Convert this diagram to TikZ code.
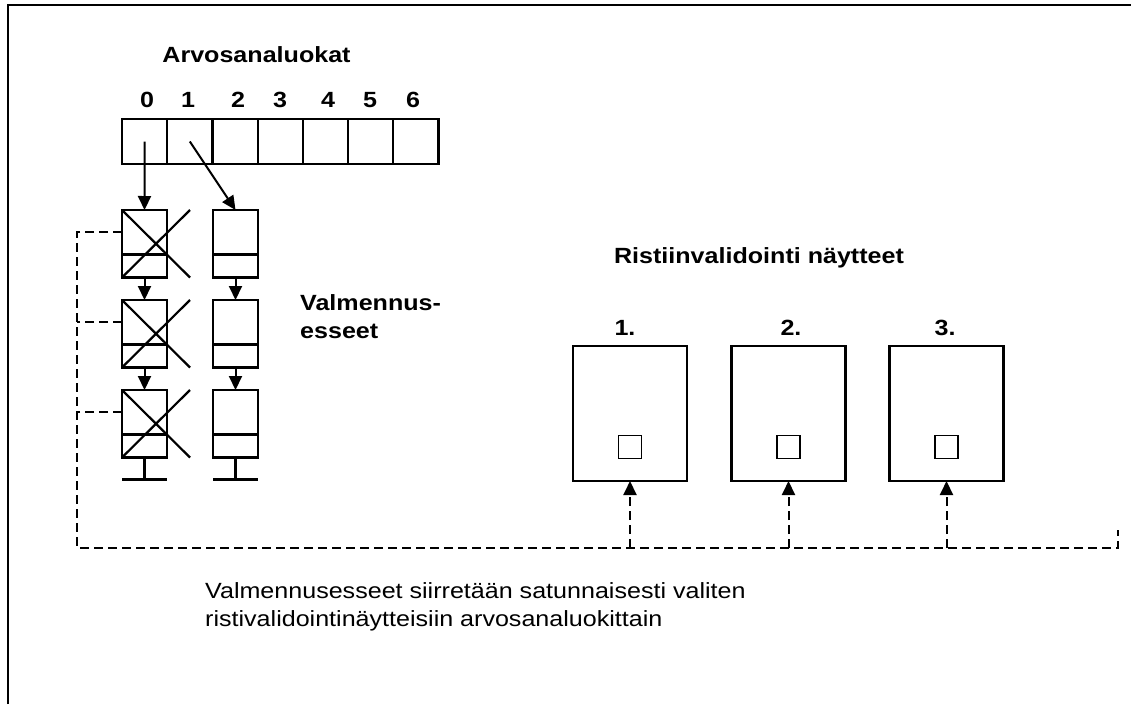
\documentclass[tikz,border=0pt]{standalone}
\usepackage{fontspec}
\setmainfont{Liberation Sans}[FakeStretch=1.14]
\usepackage{tikz}
\usetikzlibrary{arrows.meta,calc}
\newcommand{\recnode}[3]{
  \node[rec] (#1) at (#2,#3) {};
  \draw[box line] ($(#1.north west)!0.66!(#1.south west)$) -- ($(#1.north east)!0.66!(#1.south east)$);
  \coordinate (#1w) at ($(#1.north west)!0.33!(#1.south west)$);
}
\newcommand{\crossout}[1]{
  \draw[box line] (#1.north west) -- ([xshift=23pt]#1.south east);
  \draw[box line] (#1.south west) -- ([xshift=23pt]#1.north east);
}
\newcommand{\groundnode}[1]{
  \draw[box line] (#1.south) -- ++(0,22) ++(-22.5,0) -- ++(45,0);
}
\tikzset{
  box line/.style = {line width=2.2pt},
  cell/.style     = {draw, box line, minimum width=45.2pt, minimum height=45pt, inner sep=0pt, outer sep=0pt},
  rec/.style      = {draw, box line, minimum width=45pt, minimum height=67.5pt, inner sep=0pt, outer sep=0pt},
  sample/.style   = {draw, box line, minimum width=114pt, minimum height=135pt, inner sep=0pt, outer sep=0pt},
  smallbox/.style = {draw, line width=1.8pt, minimum size=23pt, inner sep=0pt, outer sep=0pt},
  heading/.style  = {font=\fontsize{22}{28}\selectfont\bfseries, inner sep=0pt},
  plaintext/.style = {font=\fontsize{22}{28}\selectfont, inner sep=0pt, align=left},
  arr/.style      = {-{Triangle[length=14pt,width=13pt]}, line width=2pt},
  dashline/.style = {line width=1.8pt, dash pattern=on 9pt off 5pt}
}

\begin{document}
\begin{tikzpicture}[x=1pt,y=-1pt]
	\useasboundingbox (0,0) rectangle (1131,704);
	\draw[line width=2.6pt] (8,704) -- (8,5) -- (1131,5);
	% grade classes
	\node[heading] (title) at (256.5,55) {Arvosanaluokat};
	\node[cell] (c0) at (144.6,141.5) {};
	\node[cell] (c1) at (189.8,141.5) {};
	\node[cell] (c2) at (235.0,141.5) {};
	\node[cell] (c3) at (280.2,141.5) {};
	\node[cell] (c4) at (325.4,141.5) {};
	\node[cell] (c5) at (370.6,141.5) {};
	\node[cell] (c6) at (415.8,141.5) {};
	\node[heading] (n0) at (147,100) {0};
	\node[heading] (n1) at (188,100) {1};
	\node[heading] (n2) at (238,100) {2};
	\node[heading] (n3) at (280,100) {3};
	\node[heading] (n4) at (328,100) {4};
	\node[heading] (n5) at (370,100) {5};
	\node[heading] (n6) at (413,100) {6};
	% training essays
	\recnode{x1}{144.5}{243.75}
	\recnode{x2}{144.5}{333.75}
	\recnode{x3}{144.5}{423.75}
	\recnode{r1}{235.5}{243.75}
	\recnode{r2}{235.5}{333.75}
	\recnode{r3}{235.5}{423.75}
	\crossout{x1}
	\crossout{x2}
	\crossout{x3}
	\groundnode{x3}
	\groundnode{r3}
	\draw[arr] (c0.center) -- (x1.north);
	\draw[arr] (c1.center) -- (r1.north);
	\draw[arr] (x1.south) -- (x2.north);
	\draw[arr] (x2.south) -- (x3.north);
	\draw[arr] (r1.south) -- (r2.north);
	\draw[arr] (r2.south) -- (r3.north);
	\node[heading, align=left, anchor=west] (train) at (300,317) {Valmennus-\\esseet};
	% cross validation samples
	\node[heading] (cvtitle) at (759,258) {Ristiinvalidointi näytteet};
	\node[sample] (s1) at (630,413.5) {};
	\node[sample] (s2) at (788.5,413.5) {};
	\node[sample] (s3) at (946.5,413.5) {};
	\node[heading] (l1) at (625,328) {1.};
	\node[heading] (l2) at (791,328) {2.};
	\node[heading] (l3) at (945,328) {3.};
	\node[smallbox] (q1) at ($(s1.south)+(0,-34)$) {};
	\node[smallbox] (q2) at ($(s2.south)+(0,-34)$) {};
	\node[smallbox] (q3) at ($(s3.south)+(0,-34)$) {};
	% transfer
	\coordinate (dcorner) at (77,548);
	\coordinate (dend) at (1118,548);
	\coordinate (dtip) at (1118,530);
	\draw[dashline] (x1w) -- (x1w -| dcorner) -- (dcorner) -- (dend) -- (dtip);
	\draw[dashline] (x2w) -- (x2w -| dcorner);
	\draw[dashline] (x3w) -- (x3w -| dcorner);
	\draw[dashline, arr] (s1.south |- dcorner) -- (s1.south);
	\draw[dashline, arr] (s2.south |- dcorner) -- (s2.south);
	\draw[dashline, arr] (s3.south |- dcorner) -- (s3.south);
	\node[plaintext, anchor=west] (note) at (205,607) {Valmennusesseet siirretään satunnaisesti valiten\\ristivalidointinäytteisiin arvosanaluokittain};
\end{tikzpicture}
\end{document}
